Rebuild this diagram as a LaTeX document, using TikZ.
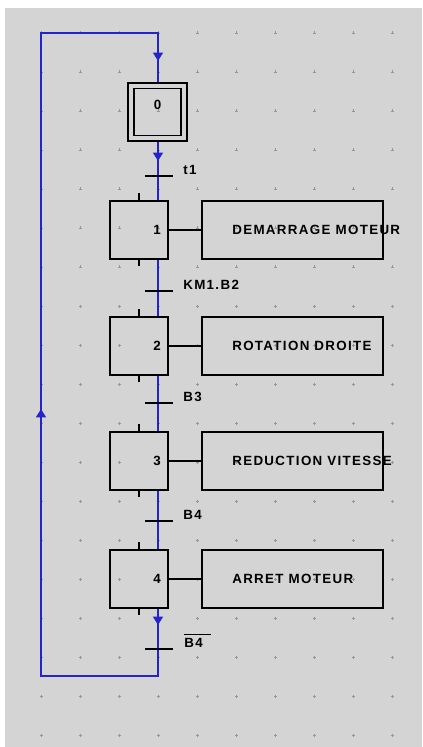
\documentclass[tikz,border=0pt]{standalone}
\usepackage{fontspec}
\newfontfamily\grafont[LetterSpace=10]{Liberation Sans}
\newfontfamily\numfont{Liberation Sans}
\usetikzlibrary{arrows.meta}
\definecolor{panel}{RGB}{212,212,212}
\definecolor{dotgray}{RGB}{150,150,150}
\definecolor{loopblue}{RGB}{36,36,205}
\tikzset{
  stepbox/.style={draw,line width=1.3pt,minimum width=1.45cm,minimum height=1.45cm,inner sep=0pt},
  actbox/.style={draw,line width=1.3pt,minimum width=4.525cm,minimum height=1.45cm,inner sep=0pt},
  txt/.style={font=\grafont\bfseries\fontsize{9.5}{10}\selectfont,inner sep=0pt},
  num/.style={font=\numfont\bfseries\fontsize{9.5}{10}\selectfont,inner sep=0pt},
  link/.style={loopblue,line width=1.5pt},
  bar/.style={line width=1.1pt},
  tip/.style={-{Triangle[width=7pt,length=6pt]}},
  gridmark/.style={dotgray,line width=0.4pt}
}
\begin{document}
\begin{tikzpicture}[x=0.025cm,y=-0.025cm]
\useasboundingbox (0,0) rectangle (422,747);
\fill[panel] (5,8) rectangle (422,747);
% grid
\foreach \gx in {41,80,...,392}
  \foreach \gy in {33,72,...,735}
    \draw[gridmark] (\gx,\gy) +(-1.5,0) -- +(1.5,0) +(0,-1.5) -- +(0,1.5);
% initial step
\node[stepbox,minimum width=1.475cm,minimum height=1.45cm] (s0) at (157.5,112) {};
\node[stepbox,minimum width=1.175cm,minimum height=1.175cm] (s0i) at (157.5,112) {};
\node[num] (n0) at (157.5,105) {0};
% steps and actions
\foreach \i/\y/\act in {1/230/DEMARRAGE MOTEUR,2/346/ROTATION DROITE,3/461/REDUCTION VITESSE,4/579/ARRET MOTEUR}{
  \node[stepbox] (s\i) at (139,\y) {};
  \node[num] (n\i) at (157,\y) {\i};
  \node[actbox] (act\i) at (292.5,\y) {};
  \node[txt,anchor=west] (l\i) at (232,\y) {\act};
  \draw[line width=1pt] (s\i) -- (act\i);
  \draw[line width=0.8pt] (s\i.north) -- ++(0,-7);
  \draw[line width=0.8pt] (s\i.south) -- ++(0,6);
}
% loop
\coordinate (tl) at (41,33);
\coordinate (tr) at (158,33);
\coordinate (bl) at (41,676);
\coordinate (br) at (158,676);
\coordinate (ar0) at (158,61);
\coordinate (ar1) at (158,161);
\coordinate (ar4) at (158,625);
\coordinate (arup) at (41,409);
\draw[link] (s0.south -| br) -- (s1.north -| br);
\draw[link] (s1.south -| br) -- (s2.north -| br);
\draw[link] (s2.south -| br) -- (s3.north -| br);
\draw[link] (s3.south -| br) -- (s4.north -| br);
\draw[link] (s4.south -| br) -- (br) -- (bl) -- (tl) -- (tr) -- (s0.north -| br);
\draw[link,tip] (tr) -- (ar0);
\draw[link,tip] (s0.south -| br) -- (ar1);
\draw[link,tip] (s4.south -| br) -- (ar4);
\draw[link,tip] (bl) -- (arup);
% transitions
\foreach \y/\lab in {176/t1,291/KM1.B2,403/B3,521/B4}{
  \coordinate (t) at (158,\y);
  \draw[bar] (t) ++(-13,0) -- ++(28,0);
  \node[txt,anchor=south west] at (183,\y-1.5) {\lab};
}
\coordinate (t5) at (158,649);
\draw[bar] (t5) ++(-13,0) -- ++(28,0);
\node[txt,anchor=south west] (l5) at (184,648) {B4};
\draw[line width=1pt] (l5.north west) ++(0,-4) -- ++(27,0);
\end{tikzpicture}
\end{document}
